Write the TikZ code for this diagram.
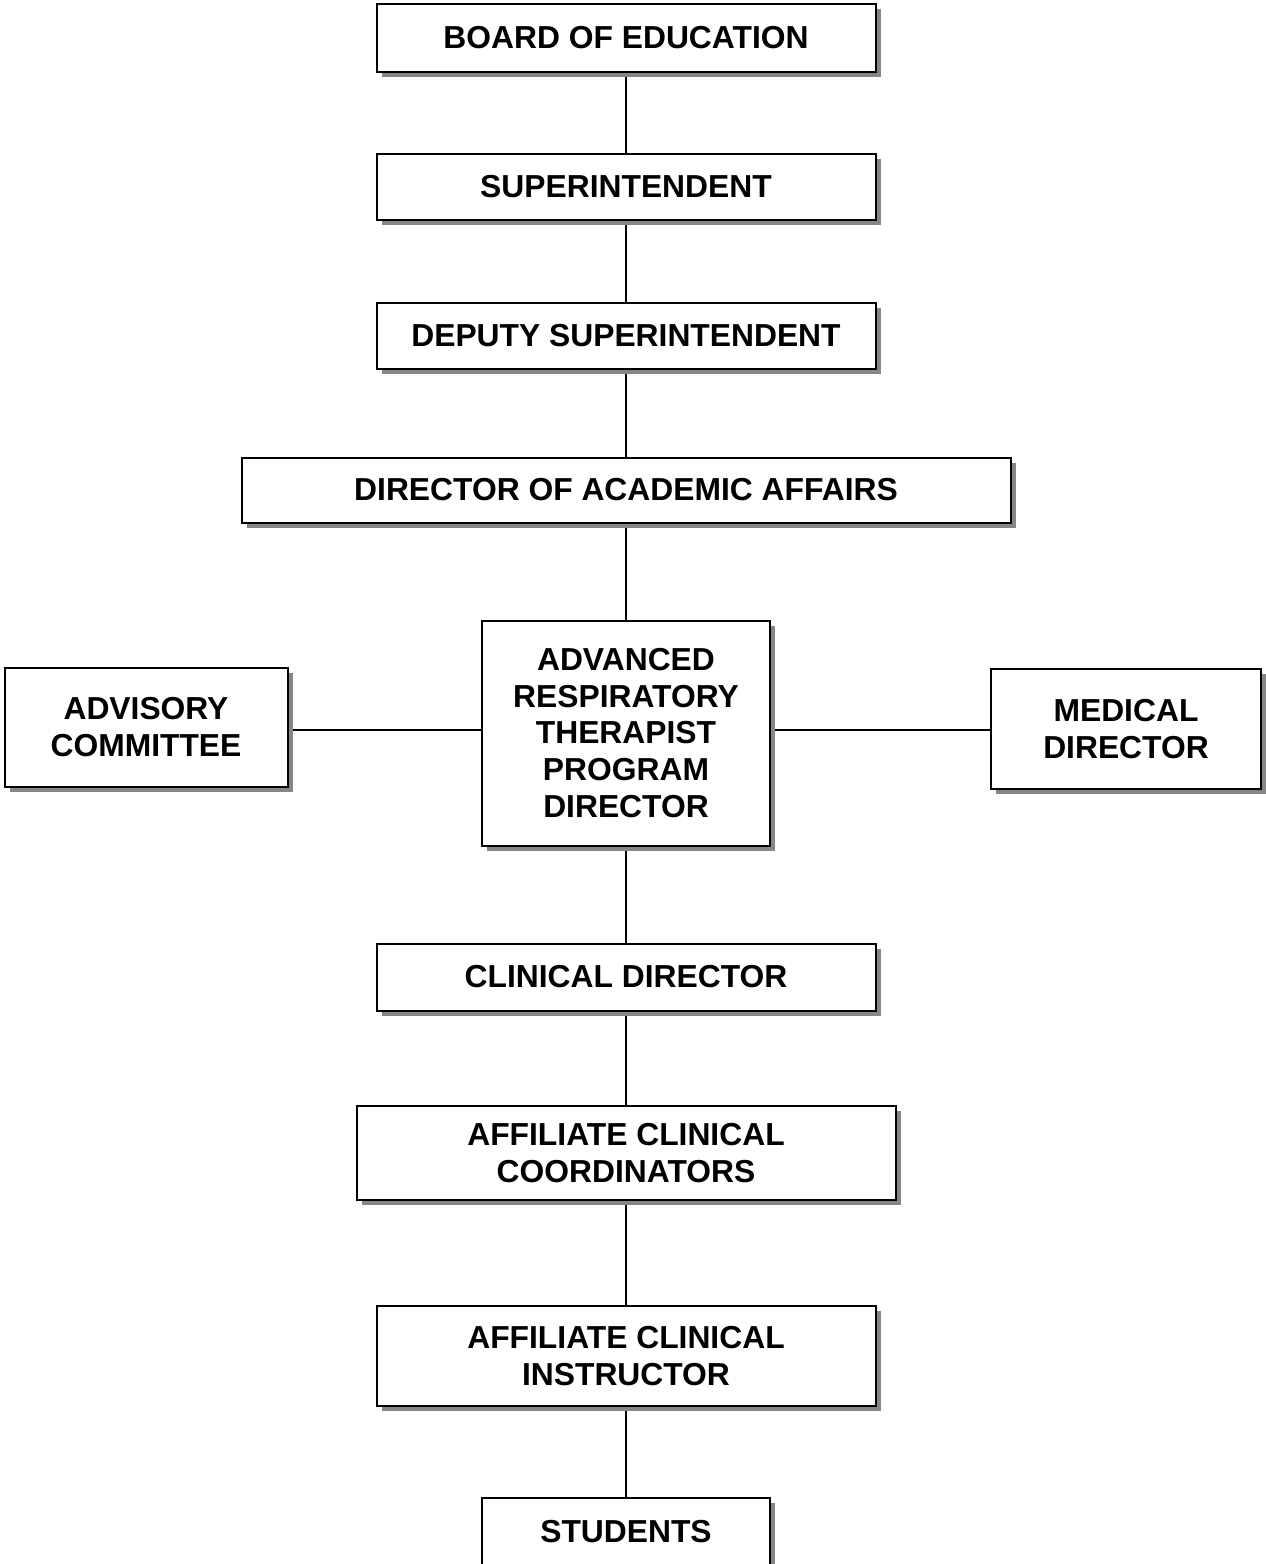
\documentclass[tikz,border=0pt]{standalone}
\usepackage{fontspec}
\setmainfont{Liberation Sans}
\usetikzlibrary{shadows,backgrounds}

\begin{document}
\begin{tikzpicture}[x=0.5pt,y=-0.5pt,
  caja/.style={draw, line width=1pt, fill=white, align=center, inner sep=0pt,
    font=\bfseries\fontsize{15.9}{18.4}\selectfont,
    drop shadow={shadow xshift=2.5pt, shadow yshift=-2.5pt, fill=gray!95, opacity=1}},
  linea/.style={line width=0.7pt}]
%marco de la pagina
\useasboundingbox (0,0) rectangle (1265,1564);

%Cajas de la columna central
\node[caja, minimum width=249.5pt, minimum height=34pt] (junta) at (626,38) {BOARD OF EDUCATION};
\node[caja, minimum width=249.5pt, minimum height=33pt] (superint) at (626,187) {SUPERINTENDENT};
\node[caja, minimum width=249.5pt, minimum height=33pt] (adjunto) at (626,336) {DEPUTY SUPERINTENDENT};
\node[caja, minimum width=384.5pt, minimum height=32.5pt] (academico) at (626,490) {DIRECTOR OF ACADEMIC AFFAIRS};
\node[caja, minimum width=144pt, minimum height=112.5pt] (programa) at (626,733) {ADVANCED\\RESPIRATORY\\THERAPIST\\PROGRAM\\DIRECTOR};
\node[caja, minimum width=249.5pt, minimum height=33.5pt] (clinico) at (626,977) {CLINICAL DIRECTOR};
\node[caja, minimum width=269.5pt, minimum height=47pt] (coord) at (626,1153) {AFFILIATE CLINICAL\\COORDINATORS};
\node[caja, minimum width=249.5pt, minimum height=50pt] (instructor) at (626,1356) {AFFILIATE CLINICAL\\INSTRUCTOR};
\node[caja, minimum width=144pt, minimum height=34pt] (alumnos) at (626,1532) {STUDENTS};

%Cajas de los lados
\node[caja, minimum width=141.5pt, minimum height=59.5pt] (asesor) at (146,727) {ADVISORY\\COMMITTEE};
\node[caja, minimum width=135pt, minimum height=60pt] (medico) at (1126,729) {MEDICAL\\DIRECTOR};

%Lineas de union
\begin{scope}[on background layer]
\draw[linea] (junta) -- (superint);
\draw[linea] (superint) -- (adjunto);
\draw[linea] (adjunto) -- (academico);
\draw[linea] (academico) -- (programa);
\draw[linea] (programa) -- (clinico);
\draw[linea] (clinico) -- (coord);
\draw[linea] (coord) -- (instructor);
\draw[linea] (instructor) -- (alumnos);
\draw[linea] (asesor.east |- 0,730) -- (programa.west |- 0,730);
\draw[linea] (programa.east |- 0,730) -- (medico.west |- 0,730);
\end{scope}
\end{tikzpicture}
\end{document}
